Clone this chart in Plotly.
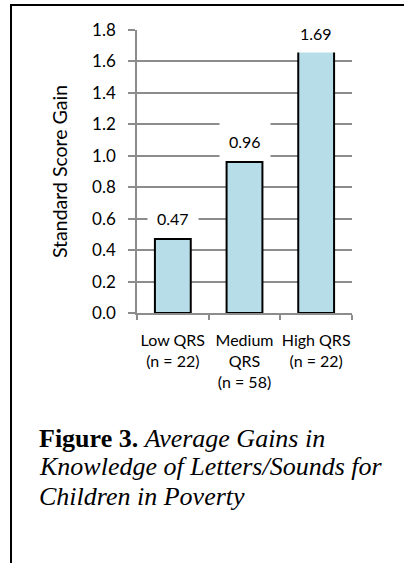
import plotly.graph_objects as go

categories = ["Low QRS<br>(n = 22)", "Medium<br>QRS<br>(n = 58)", "High QRS<br>(n = 22)"]
values = [0.47, 0.96, 1.69]
value_labels = ["0.47", "0.96", "1.69"]
y_tick_vals = [0.0, 0.2, 0.4, 0.6, 0.8, 1.0, 1.2, 1.4, 1.6, 1.8]
y_tick_text = ["0.0", "0.2", "0.4", "0.6", "0.8", "1.0", "1.2", "1.4", "1.6", "1.8"]
y_title = "Standard Score Gain"
caption_lines = [
    "<b>Figure 3.</b> <i>Average Gains in</i>",
    "<i>Knowledge of Letters/Sounds for</i>",
    "<i>Children in Poverty</i>",
]

W, H = 404, 563
L, R, T, B = 137, 52, 30, 250
PW, PH = W - L - R, H - T - B

def px_x(px):
    return (px - L) / PW

def px_y(py):
    return (H - B - py) / PH

SANS = "Lato, Open Sans, sans-serif"
SERIF = "Liberation Serif, Times New Roman, serif"
GRID = "#8c8c8c"
FS = 17

fig = go.Figure()
fig.add_trace(go.Bar(
    x=categories, y=values, width=0.5,
    marker=dict(color="#b7dde8", line=dict(color="black", width=2)),
    hoverinfo="skip",
))

label_shift = [1, 1, -6]
for c, v, t, s in zip(categories, values, value_labels, label_shift):
    fig.add_annotation(
        x=c, y=v, xref="x", yref="y", text=t, showarrow=False,
        yanchor="bottom", yshift=s, bgcolor="white", borderpad=9,
        font=dict(family=SANS, size=FS - 1, color="black"),
    )

caption_y = [438, 467, 496]
for line, py in zip(caption_lines, caption_y):
    fig.add_annotation(
        x=px_x(37), y=px_y(py), xref="paper", yref="paper", text=line,
        showarrow=False, xanchor="left", yanchor="middle", align="left",
        font=dict(family=SERIF, size=26, color="black"),
    )

# outer frame (top and left edges)
fig.add_shape(type="line", xref="paper", yref="paper",
              x0=px_x(10), x1=px_x(404), y0=px_y(5), y1=px_y(5),
              line=dict(color="black", width=2))
fig.add_shape(type="line", xref="paper", yref="paper",
              x0=px_x(11), x1=px_x(11), y0=px_y(5), y1=px_y(563),
              line=dict(color="black", width=2))

fig.update_layout(
    width=W, height=H, autosize=False,
    margin=dict(l=L, r=R, t=T, b=B),
    paper_bgcolor="white", plot_bgcolor="white",
    showlegend=False, bargap=0.5,
    font=dict(family=SANS, size=FS, color="black"),
)
fig.update_xaxes(
    showline=True, linecolor=GRID, linewidth=1.5,
    ticks="outside", tickson="boundaries", ticklen=5, tickcolor=GRID, tickwidth=1.5,
    tickangle=0, ticklabelstandoff=12,
    showgrid=False, tickfont=dict(family=SANS, size=FS - 1, color="black"),
)
fig.update_yaxes(
    range=[0, 1.8], tickvals=y_tick_vals, ticktext=y_tick_text,
    showline=True, linecolor=GRID, linewidth=1.5,
    ticks="outside", ticklen=7, tickcolor=GRID, tickwidth=1.5,
    ticklabelstandoff=9,
    showgrid=True, gridcolor=GRID, gridwidth=1.5, zeroline=False,
    tickfont=dict(family=SANS, size=FS, color="black"),
    title=dict(text=y_title, font=dict(family=SANS, size=19.5, color="black"), standoff=19),
)

fig.write_html("out.html", config={"displayModeBar": False},
               post_script="document.body.style.margin='0';")
